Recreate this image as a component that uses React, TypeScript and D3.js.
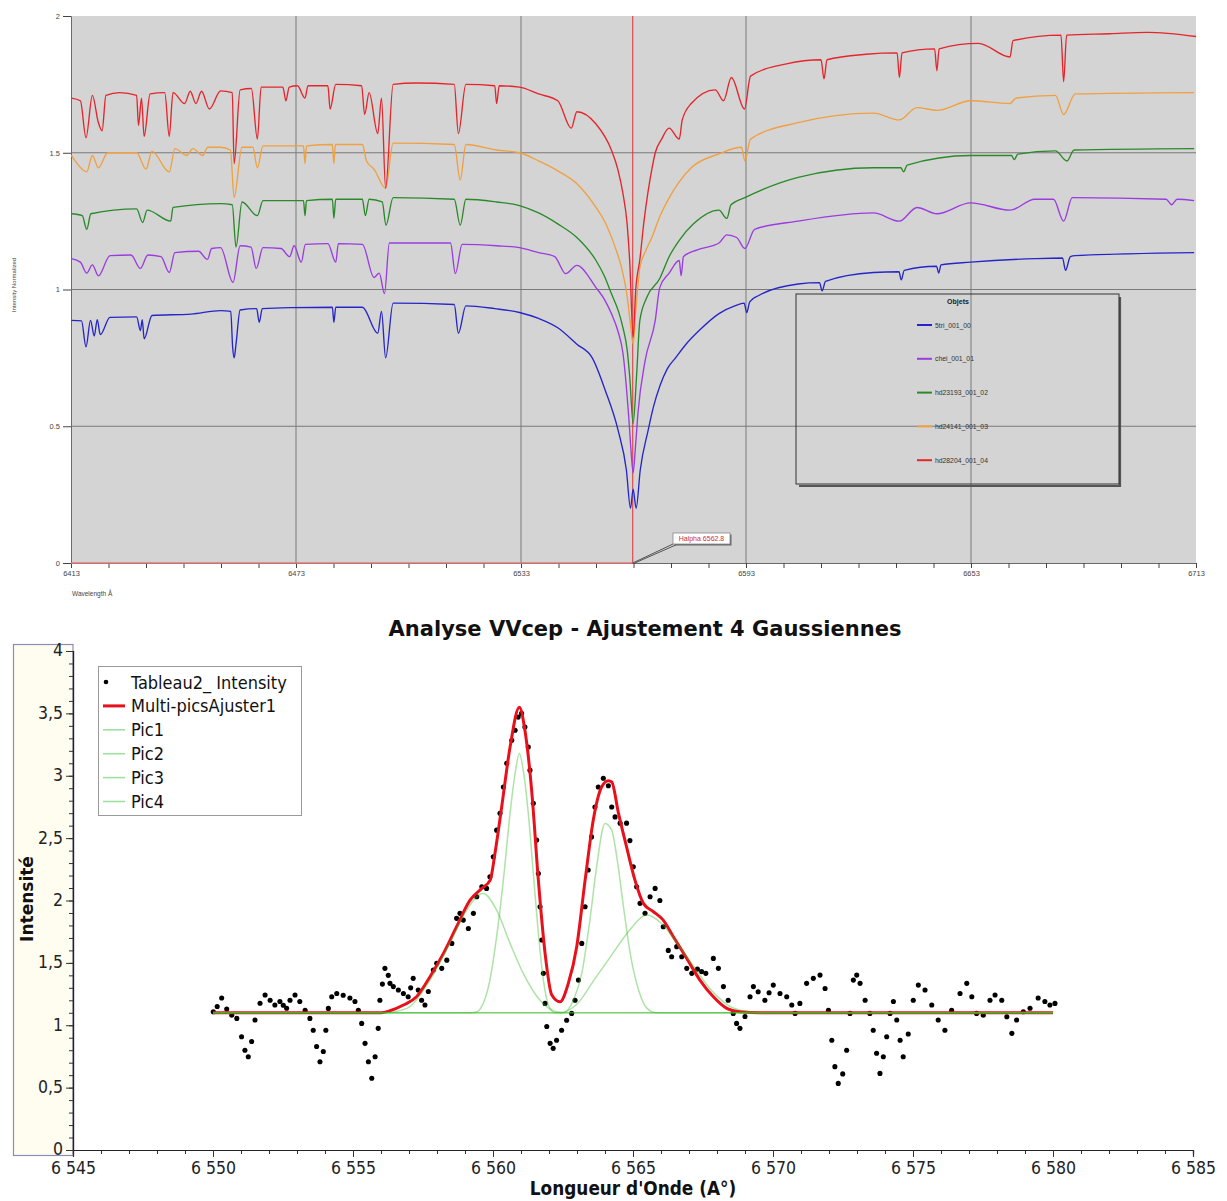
import React, { useEffect, useRef } from "react";
import * as d3 from "d3";

// ---------- top panel : normalized spectra [wavelength (A), intensity] ----------
const spec5tri = [
  [6413.1, 0.887], [6415.8, 0.885], [6417.0, 0.79], [6418.2, 0.887], [6419.2, 0.83], [6420.0, 0.89], [6420.8, 0.835],
  [6423.4, 0.898], [6430.5, 0.9], [6431.5, 0.85], [6432.0, 0.89], [6432.5, 0.82], [6434.6, 0.905], [6445, 0.91],
  [6452.9, 0.923], [6455.6, 0.92], [6456.1, 0.79], [6456.5, 0.75], [6457.0, 0.8], [6458.1, 0.925], [6462.5, 0.93],
  [6463.2, 0.88], [6464, 0.93], [6471.3, 0.934], [6482.7, 0.935], [6483.1, 0.88], [6483.6, 0.935], [6490.7, 0.935],
  [6494.8, 0.84], [6495.8, 0.92], [6496.9, 0.75], [6498.9, 0.95], [6515.2, 0.945], [6516.3, 0.84], [6518.3, 0.94],
  [6526, 0.93], [6532.6, 0.916], [6537.7, 0.894], [6542.8, 0.86], [6547.9, 0.8], [6552.0, 0.75], [6555.5, 0.63],
  [6558.9, 0.485], [6561.1, 0.34], [6562.2, 0.2], [6562.9, 0.27], [6563.7, 0.2], [6564.8, 0.34], [6566.9, 0.485],
  [6568.3, 0.57], [6570.1, 0.65], [6572, 0.71], [6574.2, 0.75], [6577, 0.8], [6580.5, 0.85], [6585.8, 0.912],
  [6590, 0.94], [6592.5, 0.95], [6593.2, 0.915], [6594, 0.955],
  [6596.4, 0.978], [6606.9, 1.02], [6612.6, 1.025], [6613.3, 0.995], [6614.2, 1.03], [6627, 1.062], [6633.8, 1.065],
  [6634.4, 1.035], [6635.2, 1.07], [6643.8, 1.085], [6644.4, 1.06], [6645, 1.09], [6652.9, 1.1], [6670.3, 1.113],
  [6677.4, 1.115], [6678.2, 1.07], [6679.5, 1.12], [6680.8, 1.124], [6712.5, 1.135],
];

const specChei = [
  [6413.1, 1.113], [6415.5, 1.1], [6417.2, 1.06], [6418.7, 1.09], [6420.3, 1.05], [6423.4, 1.124], [6429.0, 1.126],
  [6431.5, 1.077], [6433.5, 1.126], [6437, 1.12], [6439.2, 1.062], [6440.7, 1.135], [6447, 1.14], [6449.4, 1.11],
  [6450.5, 1.15], [6452.9, 1.153], [6456.2, 1.026], [6458.1, 1.16], [6461, 1.155], [6462.4, 1.077], [6464.2, 1.153],
  [6469, 1.15], [6471.3, 1.12], [6472.5, 1.16], [6474.4, 1.1], [6475.5, 1.165], [6481.5, 1.168], [6483.6, 1.1],
  [6484.3, 1.168], [6490.7, 1.165], [6493.8, 1.044], [6495.2, 1.06], [6496.6, 0.985], [6497.9, 1.17], [6514.2, 1.17],
  [6515.5, 1.058], [6517.3, 1.165], [6526.5, 1.16], [6532.6, 1.153], [6537.7, 1.135], [6542, 1.12], [6544.9, 1.058],
  [6547.9, 1.088], [6553.0, 1.007], [6555.2, 0.965], [6557.1, 0.912], [6558.8, 0.85], [6560.2, 0.766], [6561.8, 0.52],
  [6562.4, 0.4], [6562.9, 0.33], [6563.5, 0.42], [6564.2, 0.55], [6566.1, 0.74], [6568.8, 0.887], [6570.0, 1.007],
  [6572.5, 1.06], [6575.2, 1.106], [6575.7, 1.05], [6576.3, 1.12], [6580, 1.145], [6585.8, 1.17], [6587.9, 1.2],
  [6590.5, 1.19], [6592.7, 1.15], [6595.3, 1.22], [6606.9, 1.25],
  [6627, 1.28], [6633.9, 1.25], [6638.6, 1.3], [6643.9, 1.277], [6652.9, 1.317], [6663.4, 1.29], [6670, 1.33],
  [6675, 1.33], [6677.7, 1.25], [6680, 1.336], [6705, 1.33], [6706.5, 1.31], [6708, 1.33], [6712.5, 1.325],
];

const specHd23193 = [
  [6413.1, 1.277], [6416, 1.27], [6417.2, 1.22], [6418.3, 1.277], [6430.5, 1.295], [6432.1, 1.245], [6433.3, 1.29],
  [6439.6, 1.25], [6440.2, 1.3], [6452.9, 1.314], [6456.0, 1.31], [6457.0, 1.155], [6458.6, 1.32], [6462.7, 1.27],
  [6464.2, 1.325], [6475.0, 1.325], [6475.4, 1.27], [6475.8, 1.325], [6482.7, 1.33], [6483.1, 1.26], [6483.6, 1.33],
  [6490.7, 1.33], [6491.5, 1.27], [6492.5, 1.33], [6496, 1.32], [6497.0, 1.235], [6498.9, 1.336], [6515.2, 1.33],
  [6516.8, 1.235], [6518.3, 1.33], [6526.5, 1.32], [6532.6, 1.307], [6537.7, 1.28], [6542.8, 1.24], [6547.9, 1.19],
  [6553.0, 1.106], [6555.2, 1.05], [6557.1, 0.985], [6559, 0.92], [6560.2, 0.86], [6561.3, 0.78], [6562.0, 0.68],
  [6562.9, 0.51], [6563.8, 0.68], [6564.7, 0.887], [6566.5, 0.97], [6570.0, 1.04], [6572.5, 1.12], [6575.2, 1.18],
  [6579, 1.24], [6585.8, 1.29], [6587.9, 1.26], [6589, 1.31], [6592.7, 1.336], [6606.9, 1.41],
  [6627, 1.445], [6634.3, 1.445], [6635, 1.43], [6636, 1.455], [6652.9, 1.49], [6663.8, 1.49], [6664.5, 1.475],
  [6665.5, 1.495], [6675.5, 1.507], [6678.6, 1.47], [6680.5, 1.51], [6712.5, 1.515],
];

const specHd24141 = [
  [6413.1, 1.49], [6414.1, 1.47], [6417.2, 1.43], [6418.7, 1.49], [6420.3, 1.445], [6422.8, 1.5], [6430.5, 1.5],
  [6433.0, 1.44], [6434.6, 1.505], [6439.2, 1.43], [6440.7, 1.515], [6443.8, 1.49], [6445.5, 1.515], [6448.1, 1.49],
  [6449.5, 1.52], [6452.9, 1.52], [6455.5, 1.51], [6456.5, 1.336], [6458.6, 1.52], [6461.5, 1.52], [6462.7, 1.445],
  [6464.2, 1.525], [6475, 1.525], [6475.4, 1.46], [6475.8, 1.525], [6482.7, 1.53], [6483.1, 1.46], [6483.5, 1.53],
  [6490.7, 1.53], [6491.8, 1.47], [6493.8, 1.44], [6496.9, 1.37], [6498.9, 1.535], [6515.2, 1.53], [6516.8, 1.4],
  [6518.3, 1.53], [6526.5, 1.51], [6532.6, 1.5], [6537.7, 1.47], [6542.8, 1.434], [6547.9, 1.387], [6553.0, 1.3],
  [6555.8, 1.235], [6558.1, 1.155], [6559.8, 1.08], [6561.2, 0.985], [6562.3, 0.86], [6562.9, 0.8], [6563.6, 0.92],
  [6564.7, 1.08], [6566.2, 1.14], [6567.9, 1.19], [6569.8, 1.26], [6572.1, 1.325], [6575, 1.39], [6578.4, 1.445],
  [6585.8, 1.496], [6591.8, 1.52], [6592.7, 1.47], [6594.2, 1.55], [6606.9, 1.61],
  [6627, 1.645], [6633.9, 1.62], [6638.6, 1.665], [6643.9, 1.655], [6652.9, 1.69], [6663.4, 1.68], [6665, 1.7],
  [6675.5, 1.71], [6677.7, 1.64], [6680.8, 1.715], [6712.5, 1.72],
];

const specHd28204 = [
  [6413.1, 1.7], [6415.5, 1.69], [6417.0, 1.555], [6418.7, 1.71], [6420.3, 1.61], [6421.3, 1.58], [6422.3, 1.71],
  [6426, 1.72], [6430.5, 1.71], [6431.0, 1.6], [6431.8, 1.7], [6432.5, 1.56], [6434.1, 1.715], [6438, 1.72],
  [6439.2, 1.56], [6440.2, 1.72], [6443.3, 1.68], [6444.8, 1.725], [6446.3, 1.68], [6447.8, 1.725], [6449.9, 1.66],
  [6452.9, 1.726], [6456.0, 1.72], [6456.5, 1.46], [6458.1, 1.73], [6461.1, 1.735], [6462.7, 1.55], [6463.7, 1.74],
  [6469.5, 1.74], [6470.3, 1.69], [6471.2, 1.74], [6473.4, 1.745], [6475.4, 1.7], [6476.2, 1.745], [6481.5, 1.745],
  [6482.1, 1.66], [6483.6, 1.75], [6490.5, 1.745], [6491.3, 1.64], [6492.5, 1.72], [6494.8, 1.57], [6495.8, 1.7],
  [6496.9, 1.37], [6498.9, 1.75], [6505, 1.755], [6515.2, 1.75], [6516.3, 1.57], [6518.3, 1.75], [6526, 1.745],
  [6526.5, 1.68], [6527.2, 1.745], [6532.6, 1.74], [6537.7, 1.715], [6542.8, 1.69], [6546.4, 1.59], [6547.9, 1.65],
  [6553.0, 1.605], [6557.1, 1.51], [6558.8, 1.44], [6560.2, 1.35], [6561.3, 1.24], [6562.0, 1.1], [6562.9, 0.825],
  [6563.6, 1.0], [6564.7, 1.11], [6565.8, 1.25], [6566.9, 1.36], [6567.9, 1.44], [6568.8, 1.5], [6570.5, 1.55],
  [6572.5, 1.59], [6575.2, 1.55], [6576, 1.62], [6578.4, 1.68], [6584.8, 1.73],
  [6587, 1.69], [6589.1, 1.775], [6592.6, 1.66], [6594.2, 1.78], [6603.8, 1.825], [6613.0, 1.84], [6613.8, 1.77],
  [6614.6, 1.84], [6625, 1.86], [6633.3, 1.865], [6633.9, 1.775], [6634.6, 1.865], [6643.3, 1.88], [6643.9, 1.8],
  [6644.5, 1.88], [6655, 1.9], [6663.4, 1.85], [6664.2, 1.91], [6677, 1.93], [6677.7, 1.76], [6678.5, 1.93],
  [6690, 1.935], [6700, 1.94], [6713, 1.925],
];

const topSeries = [spec5tri, specChei, specHd23193, specHd24141, specHd28204];
const topNames = ["5tri_001_00", "chei_001_01", "hd23193_001_02", "hd24141_001_03", "hd28204_001_04"];
const topColors = ["#2626c8", "#9a3ce0", "#2a8a2a", "#f0a040", "#e4262c"];
const topYTicks = [0, 0.5, 1, 1.5, 2];
const topXLabels = [6413, 6473, 6533, 6593, 6653, 6713];
const halpha = 6562.8;

// ---------- bottom panel : VV Cep H-alpha, 4 gaussians fit ----------
const intensityPts = [
  [6550.01, 1.108], [6550.15, 1.15], [6550.31, 1.218], [6550.49, 1.13], [6550.67, 1.08], [6550.85, 1.055], [6551.02, 0.908],
  [6551.14, 0.8], [6551.26, 0.748], [6551.38, 0.87], [6551.5, 1.042], [6551.68, 1.176], [6551.86, 1.242], [6552.04, 1.2],
  [6552.21, 1.162], [6552.39, 1.19], [6552.51, 1.16], [6552.63, 1.136], [6552.75, 1.2], [6552.93, 1.242], [6553.1, 1.19],
  [6553.29, 1.12], [6553.46, 1.055], [6553.58, 0.96], [6553.7, 0.83], [6553.82, 0.708], [6553.94, 0.79], [6554.03, 0.96],
  [6554.12, 1.135], [6554.24, 1.228], [6554.42, 1.255], [6554.65, 1.24], [6554.89, 1.218], [6555.07, 1.19], [6555.19, 1.12],
  [6555.31, 1.015], [6555.43, 0.855], [6555.55, 0.708], [6555.67, 0.575], [6555.79, 0.748], [6555.9, 0.975], [6555.96, 1.2],
  [6556.05, 1.33], [6556.14, 1.456], [6556.26, 1.4], [6556.32, 1.336], [6556.44, 1.31], [6556.62, 1.282], [6556.8, 1.255],
  [6556.97, 1.228], [6557.06, 1.3], [6557.15, 1.376], [6557.33, 1.282], [6557.45, 1.2], [6557.57, 1.162], [6557.69, 1.27],
  [6557.87, 1.442], [6557.99, 1.496], [6558.17, 1.456], [6558.35, 1.522], [6558.53, 1.656], [6558.7, 1.857], [6558.82, 1.897],
  [6558.94, 1.843], [6559.12, 1.776], [6559.3, 1.897], [6559.42, 2.03], [6559.6, 2.11], [6559.77, 2.097], [6559.89, 2.19],
  [6560.01, 2.35], [6560.13, 2.564], [6560.25, 2.7], [6560.37, 2.91], [6560.49, 3.1], [6560.67, 3.285], [6560.79, 3.365],
  [6560.9, 3.47], [6561.02, 3.5], [6561.14, 3.39], [6561.26, 3.23], [6561.32, 3.045], [6561.44, 2.78], [6561.56, 2.484],
  [6561.62, 2.217], [6561.68, 1.95], [6561.74, 1.683], [6561.8, 1.416], [6561.86, 1.175], [6561.92, 0.99], [6562.04, 0.855],
  [6562.15, 0.815], [6562.27, 0.88], [6562.45, 0.96], [6562.63, 1.04], [6562.81, 1.095], [6562.93, 1.2], [6563.05, 1.362],
  [6563.17, 1.656], [6563.29, 1.95], [6563.4, 2.244], [6563.52, 2.51], [6563.64, 2.75], [6563.76, 2.91], [6563.94, 2.98],
  [6564.12, 2.92], [6564.24, 2.75], [6564.36, 2.67], [6564.54, 2.62], [6564.77, 2.62], [6564.89, 2.48], [6565.01, 2.27],
  [6565.13, 2.11], [6565.25, 1.977], [6565.43, 1.897], [6565.61, 2.03], [6565.79, 2.097], [6565.96, 2.0], [6566.08, 1.79],
  [6566.26, 1.6], [6566.38, 1.549], [6566.56, 1.63], [6566.74, 1.549], [6566.92, 1.456], [6567.1, 1.416], [6567.3, 1.45],
  [6567.45, 1.43], [6567.6, 1.416], [6567.87, 1.536], [6568.05, 1.456], [6568.23, 1.31], [6568.4, 1.2], [6568.58, 1.095],
  [6568.7, 1.015], [6568.82, 0.975], [6569.0, 1.07], [6569.18, 1.228], [6569.3, 1.31], [6569.47, 1.269], [6569.71, 1.2],
  [6569.86, 1.26], [6570.01, 1.322], [6570.25, 1.255], [6570.49, 1.228], [6570.67, 1.162], [6570.79, 1.095], [6570.96, 1.175],
  [6571.2, 1.336], [6571.44, 1.376], [6571.68, 1.402], [6571.86, 1.295], [6571.98, 1.12], [6572.1, 0.88], [6572.21, 0.668],
  [6572.33, 0.534], [6572.49, 0.61], [6572.63, 0.8], [6572.75, 1.095], [6572.87, 1.362], [6572.99, 1.402], [6573.11, 1.336],
  [6573.29, 1.2], [6573.46, 1.095], [6573.58, 0.96], [6573.7, 0.775], [6573.82, 0.614], [6573.94, 0.748], [6574.06, 0.908],
  [6574.18, 1.095], [6574.3, 1.19], [6574.42, 1.042], [6574.54, 0.88], [6574.65, 0.748], [6574.83, 0.93], [6575.01, 1.2],
  [6575.19, 1.322], [6575.43, 1.282], [6575.67, 1.162], [6575.9, 1.042], [6576.14, 0.96], [6576.38, 1.12], [6576.68, 1.255],
  [6576.92, 1.336], [6577.1, 1.228], [6577.27, 1.095], [6577.51, 1.08], [6577.75, 1.2], [6577.93, 1.242], [6578.17, 1.2],
  [6578.35, 1.068], [6578.53, 0.935], [6578.7, 1.042], [6578.94, 1.108], [6579.18, 1.136], [6579.47, 1.218], [6579.71, 1.19],
  [6579.89, 1.162], [6580.07, 1.175],
];

const fitPts = [
  [6550, 1.1], [6556.0, 1.1], [6556.32, 1.116], [6556.8, 1.162], [6557.27, 1.228], [6557.75, 1.389], [6558.23, 1.576],
  [6558.7, 1.79], [6559.18, 2.003], [6559.6, 2.097], [6559.9, 2.163], [6560.07, 2.377], [6560.31, 2.75], [6560.61, 3.23],
  [6560.94, 3.55], [6561.14, 3.365], [6561.38, 2.885], [6561.62, 2.163], [6561.86, 1.576], [6562.1, 1.242], [6562.39, 1.188],
  [6562.69, 1.336], [6562.99, 1.63], [6563.29, 2.163], [6563.58, 2.644], [6563.88, 2.91], [6564.12, 2.96], [6564.24, 2.95],
  [6564.48, 2.7], [6564.77, 2.43], [6565.07, 2.163], [6565.37, 1.977], [6565.73, 1.91], [6566.08, 1.843], [6566.44, 1.71],
  [6566.92, 1.536], [6567.39, 1.362], [6567.87, 1.228], [6568.35, 1.135], [6568.82, 1.108], [6569.53, 1.1], [6580, 1.1],
];

const pic1 = [
  [6550, 1.1], [6556.08, 1.1], [6556.92, 1.135], [6557.75, 1.362], [6558.46, 1.656], [6559.06, 1.923], [6559.65, 2.057],
  [6560.13, 1.923], [6560.61, 1.656], [6561.08, 1.416], [6561.68, 1.2], [6562.27, 1.108], [6562.6, 1.1], [6580, 1.1],
];
const pic2 = [
  [6550, 1.1], [6559.2, 1.1], [6559.42, 1.108], [6559.65, 1.175], [6559.89, 1.362], [6560.13, 1.71], [6560.37, 2.163],
  [6560.61, 2.7], [6560.79, 3.02], [6560.94, 3.18], [6561.08, 3.045], [6561.26, 2.7], [6561.44, 2.217], [6561.62, 1.737],
  [6561.8, 1.362], [6561.98, 1.162], [6562.21, 1.1], [6580, 1.1],
];
const pic3 = [
  [6550, 1.1], [6562.51, 1.1], [6562.87, 1.2], [6563.17, 1.416], [6563.46, 1.843], [6563.7, 2.27], [6564.0, 2.618],
  [6564.24, 2.564], [6564.42, 2.35], [6564.66, 1.95], [6564.9, 1.576], [6565.2, 1.282], [6565.5, 1.135], [6565.85, 1.1],
  [6580, 1.1],
];
const pic4 = [
  [6550, 1.1], [6562.4, 1.1], [6563.0, 1.17], [6563.6, 1.36], [6564.2, 1.55], [6564.8, 1.74], [6565.5, 1.883],
  [6566.0, 1.82], [6566.6, 1.65], [6567.2, 1.46], [6567.8, 1.28], [6568.4, 1.16], [6569.1, 1.11], [6569.8, 1.1],
  [6580, 1.1],
];
const picSeries = [pic1, pic2, pic3, pic4];
const legendLabels = ["Tableau2_ Intensity", "Multi-picsAjuster1", "Pic1", "Pic2", "Pic3", "Pic4"];

const narrow = "'DejaVu Sans Condensed', 'DejaVu Sans', sans-serif";
const small = "'Liberation Sans', Arial, sans-serif";

function drawTop(svg) {
  const x = d3.scaleLinear().domain([6413, 6713]).range([71, 1196]);
  const y = d3.scaleLinear().domain([0, 2]).range([563, 16]);
  const g = svg.append("g");

  g.append("rect").attr("x", 71).attr("y", 16).attr("width", 1125).attr("height", 547).attr("fill", "#d4d4d4");

  g.selectAll(".vgrid").data(topXLabels.slice(1, -1)).join("line")
    .attr("x1", d => x(d)).attr("x2", d => x(d)).attr("y1", 16).attr("y2", 563)
    .attr("stroke", "#7a7a7a").attr("stroke-width", 1);
  g.selectAll(".hgrid").data([0.5, 1, 1.5]).join("line")
    .attr("x1", 71).attr("x2", 1196).attr("y1", d => y(d)).attr("y2", d => y(d))
    .attr("stroke", "#7a7a7a").attr("stroke-width", 1);

  const yAxis = g.append("g").attr("transform", "translate(71,0)")
    .call(d3.axisLeft(y).tickValues(topYTicks).tickSize(8).tickFormat(d3.format(".1~f")));
  const xAxis = g.append("g").attr("transform", "translate(0,563)")
    .call(d3.axisBottom(x).tickValues(d3.range(6413, 6714, 10)).tickSize(5)
      .tickFormat(d => (topXLabels.includes(d) ? String(d) : "")));
  [yAxis, xAxis].forEach(a => {
    a.select(".domain").attr("stroke", "#6a6a6a");
    a.selectAll("line").attr("stroke", "#444");
    a.selectAll("text").attr("font-size", 7.5).attr("font-family", small).attr("fill", "#444");
  });

  // red marker along the zero line and H-alpha vertical line
  g.append("line").attr("x1", x(6413)).attr("x2", x(halpha)).attr("y1", y(0)).attr("y2", y(0))
    .attr("stroke", "#e07a7a").attr("stroke-width", 1.5);
  g.append("line").attr("x1", x(halpha)).attr("x2", x(halpha)).attr("y1", 16).attr("y2", 563)
    .attr("stroke", "#e03030").attr("stroke-width", 1);

  const line = d3.line().x(d => x(d[0])).y(d => y(d[1])).curve(d3.curveMonotoneX);
  topSeries.forEach((s, i) => {
    g.append("path").attr("d", line(s)).attr("fill", "none").attr("stroke", topColors[i])
      .attr("stroke-width", 1.35).attr("stroke-linejoin", "round");
  });

  // H-alpha callout
  const hx = x(halpha);
  g.append("line").attr("x1", hx).attr("y1", 563).attr("x2", 673).attr("y2", 544).attr("stroke", "#333").attr("stroke-width", 0.8);
  g.append("line").attr("x1", hx + 2).attr("y1", 563).attr("x2", 678).attr("y2", 544).attr("stroke", "#333").attr("stroke-width", 0.8);
  g.append("rect").attr("x", 674.5).attr("y", 534.5).attr("width", 57).attr("height", 11).attr("fill", "#666");
  g.append("rect").attr("x", 673).attr("y", 533).attr("width", 57).attr("height", 11).attr("fill", "#fff").attr("stroke", "#888").attr("stroke-width", 0.8);
  g.append("text").attr("x", 701.5).attr("y", 541.3).attr("text-anchor", "middle").attr("font-size", 7)
    .attr("font-family", small).attr("fill", "#d03030").text("Halpha 6562.8");

  // axis titles
  g.append("text").attr("transform", "translate(16,285) rotate(-90)").attr("text-anchor", "middle")
    .attr("font-size", 6).attr("font-family", small).attr("fill", "#444").text("Intensity Normalized");
  g.append("text").attr("x", 72).attr("y", 596).attr("font-size", 6.5).attr("font-family", small)
    .attr("fill", "#444").text("Wavelength Å");

  // legend
  g.append("path").attr("d", "M1120,297 V486 H799").attr("fill", "none").attr("stroke", "#555").attr("stroke-width", 2.2);
  g.append("rect").attr("x", 796).attr("y", 294).attr("width", 323).attr("height", 190)
    .attr("fill", "none").attr("stroke", "#333").attr("stroke-width", 1);
  g.append("text").attr("x", 958).attr("y", 304).attr("text-anchor", "middle").attr("font-size", 7)
    .attr("font-weight", "bold").attr("font-family", small).attr("fill", "#222").text("Objets");
  const items = g.selectAll(".leg").data(topNames).join("g")
    .attr("transform", (d, i) => `translate(0,${325 + i * 33.8})`);
  items.append("line").attr("x1", 917).attr("x2", 932).attr("y1", 0).attr("y2", 0)
    .attr("stroke", (d, i) => topColors[i]).attr("stroke-width", 2);
  items.append("text").attr("x", 935).attr("y", 2.5).attr("font-size", 6.8).attr("font-family", small)
    .attr("fill", "#333").text(d => d);
}

function drawBottom(svg) {
  const x = d3.scaleLinear().domain([6545, 6585]).range([73, 1193]);
  const y = d3.scaleLinear().domain([0, 4]).range([1150, 651]);
  const fr = d3.formatLocale({ decimal: ",", thousands: " ", grouping: [3], currency: ["", " €"] });
  const g = svg.append("g");

  // y-axis selection frame
  g.append("rect").attr("x", 13.5).attr("y", 644.5).attr("width", 59.5).attr("height", 511)
    .attr("fill", "#fffcf0").attr("stroke", "#8c8cb8").attr("stroke-width", 1.2);

  g.append("text").attr("x", 645).attr("y", 636).attr("text-anchor", "middle").attr("font-size", 21)
    .attr("font-weight", "bold").attr("font-family", "'DejaVu Sans', sans-serif").attr("fill", "#111")
    .text("Analyse VVcep - Ajustement 4 Gaussiennes");

  const minorY = g.append("g").attr("transform", "translate(73,0)")
    .call(d3.axisLeft(y).tickValues(d3.range(0, 40.5, 1).map(v => v / 10)).tickSize(4).tickFormat(() => ""));
  const majorY = g.append("g").attr("transform", "translate(73,0)")
    .call(d3.axisLeft(y).tickValues(d3.range(0, 8.5, 1).map(v => v / 2)).tickSize(7).tickFormat(fr.format(".1~f")));
  const minorX = g.append("g").attr("transform", "translate(0,1150)")
    .call(d3.axisBottom(x).tickValues(d3.range(6545, 6586, 1)).tickSize(4).tickFormat(() => ""));
  const majorX = g.append("g").attr("transform", "translate(0,1150)")
    .call(d3.axisBottom(x).tickValues(d3.range(6545, 6586, 5)).tickSize(7).tickFormat(fr.format(",")));
  [minorY, majorY, minorX, majorX].forEach(a => {
    a.select(".domain").attr("stroke", "#222").attr("stroke-width", 1.2);
    a.selectAll("line").attr("stroke", "#333");
    a.selectAll("text").attr("font-size", 17.5).attr("font-family", narrow).attr("fill", "#222");
  });
  majorX.selectAll("text").attr("dy", "0.78em");
  majorY.selectAll("text").attr("dy", "0.28em");

  g.append("text").attr("transform", "translate(33,899) rotate(-90)").attr("text-anchor", "middle")
    .attr("font-size", 17).attr("font-weight", "bold").attr("font-family", "'DejaVu Sans', sans-serif")
    .attr("fill", "#111").text("Intensité");
  g.append("text").attr("x", 633).attr("y", 1195).attr("text-anchor", "middle").attr("font-size", 18.8)
    .attr("font-weight", "bold").attr("font-family", narrow).attr("fill", "#111").text("Longueur d'Onde (A°)");

  // data points
  g.selectAll(".pt").data(intensityPts).join("circle")
    .attr("cx", d => x(d[0])).attr("cy", d => y(d[1])).attr("r", 2.55).attr("fill", "#000");

  const smooth = d3.line().x(d => x(d[0])).y(d => y(d[1])).curve(d3.curveMonotoneX);
  g.append("path").attr("d", smooth(fitPts)).attr("fill", "none").attr("stroke", "#e8101a")
    .attr("stroke-width", 3).attr("stroke-linejoin", "round");
  picSeries.forEach(p => {
    g.append("path").attr("d", smooth(p)).attr("fill", "none").attr("stroke", "#3cbc2c")
      .attr("stroke-width", 1.5).attr("stroke-opacity", 0.42);
  });

  // legend
  g.append("rect").attr("x", 98.5).attr("y", 666.5).attr("width", 203).attr("height", 149)
    .attr("fill", "#fff").attr("stroke", "#9a9a9a").attr("stroke-width", 1);
  const rows = g.selectAll(".brow").data(legendLabels).join("g")
    .attr("transform", (d, i) => `translate(0,${682 + i * 23.9})`);
  rows.each(function (d, i) {
    const r = d3.select(this);
    if (i === 0) r.append("circle").attr("cx", 106).attr("cy", 0).attr("r", 2.3).attr("fill", "#000");
    else r.append("line").attr("x1", 103).attr("x2", 125).attr("y1", 0).attr("y2", 0)
      .attr("stroke", i === 1 ? "#e8101a" : "#9ee09e").attr("stroke-width", i === 1 ? 3 : 1.6);
  });
  rows.append("text").attr("x", 131).attr("y", 6.5).attr("font-size", 18).attr("font-family", narrow)
    .attr("fill", "#111").text(d => d);
}

export default function App() {
  const ref = useRef(null);
  useEffect(() => {
    const svg = d3.select(ref.current);
    svg.selectAll("*").remove();
    drawTop(svg);
    drawBottom(svg);
  }, []);
  return (
    <svg ref={ref} width={1227} height={1201}
      style={{ position: "absolute", left: 0, top: 0, background: "#fff", display: "block" }} />
  );
}
